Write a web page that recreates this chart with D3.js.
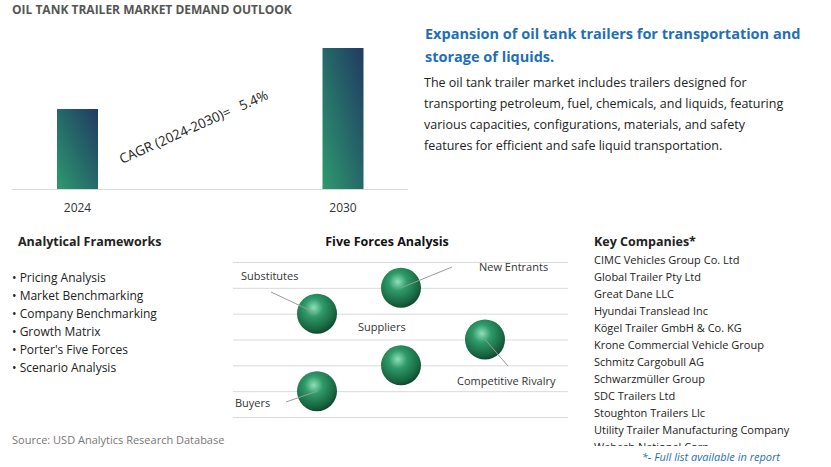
<!DOCTYPE html>
<html><head><meta charset="utf-8">
<script src="https://cdn.jsdelivr.net/npm/d3@7"></script>
<style>body{margin:0;background:#fff;font-family:"Open Sans",sans-serif}</style>
</head><body><div id="chart"></div>
<script>
var years = ["2024", "2030"],
    values = [80, 141],
    cagrText = "CAGR (2024-2030)=   5.4%",
    frameworks = ["Pricing Analysis", "Market Benchmarking", "Company Benchmarking", "Growth Matrix", "Porter's Five Forces", "Scenario Analysis"],
    companies = ["CIMC Vehicles Group Co. Ltd", "Global Trailer Pty Ltd", "Great Dane LLC", "Hyundai Translead Inc", "Kögel Trailer GmbH & Co. KG", "Krone Commercial Vehicle Group", "Schmitz Cargobull AG", "Schwarzmüller Group", "SDC Trailers Ltd", "Stoughton Trailers Llc", "Utility Trailer Manufacturing Company", "Wabash National Corp"],
    // force name, column (0..2), row (0..6 gridline index), label position
    forces = [
      {name: "New Entrants", col: 1, row: 1, lx: 479, ly: 271, ex: 452, ey: 267},
      {name: "Substitutes", col: 0, row: 2, lx: 241, ly: 280, ex: 271, ey: 292},
      {name: "Competitive Rivalry", col: 2, row: 3, lx: 457, ly: 385, ex: 508, ey: 366},
      {name: "Suppliers", col: 1, row: 4, lx: 358, ly: 331, ex: null},
      {name: "Buyers", col: 0, row: 5, lx: 235, ly: 407, ex: 286, ey: 402}
    ];

var svg = d3.select("#chart").append("svg").attr("width", 831).attr("height", 467);
var defs = svg.append("defs");
var bg = defs.append("linearGradient").attr("id", "barg").attr("x1", "0").attr("y1", "1").attr("x2", "1").attr("y2", "0");
bg.append("stop").attr("offset", "0").attr("stop-color", "#2e9a6e");
bg.append("stop").attr("offset", "0.55").attr("stop-color", "#256468");
bg.append("stop").attr("offset", "1").attr("stop-color", "#213a62");
var sg = defs.append("radialGradient").attr("id", "ball").attr("cx", "0.42").attr("cy", "0.35").attr("r", "0.65");
sg.append("stop").attr("offset", "0").attr("stop-color", "#8fe0b8");
sg.append("stop").attr("offset", "0.35").attr("stop-color", "#2f9a6a");
sg.append("stop").attr("offset", "0.85").attr("stop-color", "#17643f");
sg.append("stop").attr("offset", "1").attr("stop-color", "#0f4a2e");
defs.append("clipPath").attr("id", "coclip").append("rect").attr("x", 580).attr("y", 230).attr("width", 251).attr("height", 216);

// title
svg.append("text").attr("x", 12).attr("y", 14).attr("font-size", 12).attr("font-weight", "bold")
  .attr("fill", "#555").text("OIL TANK TRAILER MARKET DEMAND OUTLOOK");

// bar chart
var barW = 41;
var x = d3.scalePoint().domain(years).range([77.5, 343]);
var y = d3.scaleLinear().domain([0, 141]).range([189, 48]);
svg.selectAll(".bar").data(values).enter().append("rect")
  .attr("x", function(d, i) { return x(years[i]) - barW / 2; }).attr("width", barW)
  .attr("y", function(d) { return y(d); }).attr("height", function(d) { return 189 - y(d); })
  .attr("fill", "url(#barg)");
svg.append("line").attr("x1", 12).attr("x2", 408).attr("y1", 189.5).attr("y2", 189.5).attr("stroke", "#d9d9d9");
svg.selectAll(".yr").data(years).enter().append("text")
  .attr("x", function(d) { return x(d); }).attr("y", 212)
  .attr("text-anchor", "middle").attr("font-size", 12).attr("fill", "#333").text(function(d) { return d; });
svg.append("text").attr("transform", "translate(122,164) rotate(-24)").attr("font-size", 13.5)
  .attr("fill", "#222").attr("xml:space", "preserve").text(cagrText);

// right header
svg.append("text").attr("x", 425).attr("y", 39).attr("font-size", 14.5).attr("font-weight", "bold")
  .attr("fill", "#1f6fb5").text("Expansion of oil tank trailers for transportation and");
svg.append("text").attr("x", 425).attr("y", 62).attr("font-size", 14.5).attr("font-weight", "bold")
  .attr("fill", "#1f6fb5").text("storage of liquids.");
["The oil tank trailer market includes trailers designed for",
 "transporting petroleum, fuel, chemicals, and liquids, featuring",
 "various capacities, configurations, materials, and safety",
 "features for efficient and safe liquid transportation."].forEach(function(t, i) {
  svg.append("text").attr("x", 424).attr("y", 87 + i * 21).attr("font-size", 12.5).attr("fill", "#222").text(t);
});

// frameworks
svg.append("text").attr("x", 18).attr("y", 246).attr("font-size", 12.5).attr("font-weight", "bold").attr("fill", "#222").text("Analytical Frameworks");
svg.selectAll(".fw").data(frameworks).enter().append("text")
  .attr("x", 12).attr("y", function(d, i) { return 282 + i * 18; }).attr("font-size", 12).attr("fill", "#222")
  .text(function(d) { return "\u2022 " + d; });

// five forces
svg.append("text").attr("x", 387).attr("y", 246).attr("text-anchor", "middle").attr("font-size", 12.5).attr("font-weight", "bold").attr("fill", "#111").text("Five Forces Analysis");
var gy = d3.scaleLinear().domain([0, 6]).range([262, 417]);
var gx = d3.scalePoint().domain([0, 1, 2]).range([317, 485]);
svg.selectAll(".grid").data(d3.range(7)).enter().append("line")
  .attr("x1", 233).attr("x2", 568).attr("y1", function(d) { return gy(d) + 0.5; }).attr("y2", function(d) { return gy(d) + 0.5; })
  .attr("stroke", "#d9d9d9");
svg.selectAll(".ball").data(forces).enter().append("circle")
  .attr("cx", function(d) { return gx(d.col); }).attr("cy", function(d) { return gy(d.row); })
  .attr("r", 20).attr("fill", "url(#ball)");
forces.forEach(function(d) {
  if (d.ex !== null) {
    svg.append("line").attr("x1", gx(d.col)).attr("y1", gy(d.row)).attr("x2", d.ex).attr("y2", d.ey)
      .attr("stroke", "#9a9a9a").attr("stroke-width", 1);
  }
  svg.append("text").attr("x", d.lx).attr("y", d.ly).attr("font-size", 11).attr("fill", "#333").text(d.name);
});

// key companies
svg.append("text").attr("x", 594).attr("y", 246).attr("font-size", 12.5).attr("font-weight", "bold").attr("fill", "#222").text("Key Companies*");
svg.append("g").attr("clip-path", "url(#coclip)").selectAll(".co").data(companies).enter().append("text")
  .attr("x", 594).attr("y", function(d, i) { return 264 + i * 17; }).attr("font-size", 11).attr("fill", "#222")
  .text(function(d) { return d; });
svg.append("text").attr("x", 780).attr("y", 461).attr("text-anchor", "end").attr("font-size", 11).attr("font-style", "italic").attr("fill", "#1f6fb5").text("*- Full list available in report");
svg.append("text").attr("x", 12).attr("y", 444).attr("font-size", 11).attr("fill", "#777").text("Source: USD Analytics Research Database");
</script></body></html>
